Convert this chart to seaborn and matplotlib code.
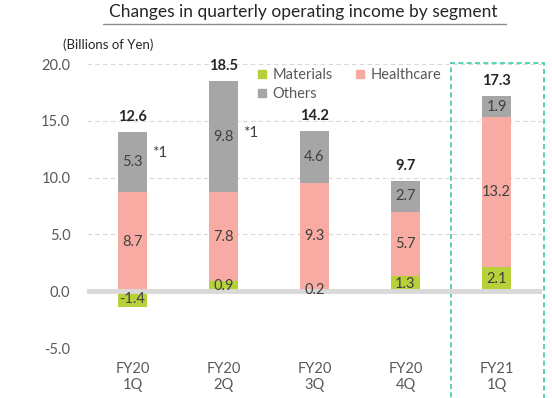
"""
Stacked bar chart: quarterly operating income by segment.

Output:
    out.png
"""

import matplotlib.pyplot as plt
import pandas as pd
import seaborn as sns
from matplotlib.lines import Line2D
from matplotlib.patches import Rectangle

quarters = ["FY20\n1Q", "FY20\n2Q", "FY20\n3Q", "FY20\n4Q", "FY21\n1Q"]
materials = [-1.4, 0.9, 0.2, 1.3, 2.1]
healthcare = [8.7, 7.8, 9.3, 5.7, 13.2]
others = [5.3, 9.8, 4.6, 2.7, 1.9]
totals = [12.6, 18.5, 14.2, 9.7, 17.3]
footnotes = {0: 12.2, 1: 13.9}  # quarter index -> y of "*1"
yticks = [-5, 0, 5, 10, 15, 20]

C_MAT = "#b7d13a"
C_HC = "#f7aba2"
C_OTH = "#a6a6a6"
C_GRID = "#d9d9d9"
C_TEXT = "#595959"
C_BOX = "#3cc9a6"

sns.set_theme(style="white")
plt.rcParams["font.family"] = ["Lato", "DejaVu Sans"]

# positive segments stack up from zero, a negative materials value hangs below
df = pd.DataFrame({"quarter": quarters, "mat": materials, "hc": healthcare, "oth": others})
df["mat_pos"] = df["mat"].clip(lower=0)
df["hc_top"] = df["mat_pos"] + df["hc"]
df["oth_top"] = df["hc_top"] + df["oth"]

fig = plt.figure(figsize=(5.52, 3.98), dpi=100)
ax = fig.add_axes([87 / 552, 1 - 348 / 398, 455 / 552, 284 / 398])

W = 0.32
bar_kw = dict(width=W, saturation=1, ax=ax, zorder=2, linewidth=0, edgecolor="none")
sns.barplot(data=df, x="quarter", y="oth_top", color=C_OTH, **bar_kw)
sns.barplot(data=df, x="quarter", y="hc_top", color=C_HC, **bar_kw)
sns.barplot(data=df, x="quarter", y="mat", color=C_MAT, **bar_kw)

ax.set_xlim(-0.5, 4.5)
ax.set_ylim(-5, 20)
ax.set_yticks(yticks)
ax.set_yticklabels([f"{v:.1f}" for v in yticks])
ax.set_xlabel("")
ax.set_ylabel("")
sns.despine(ax=ax, left=True, bottom=True)
ax.tick_params(axis="both", length=0, labelsize=10.5, labelcolor=C_TEXT)
ax.tick_params(axis="y", pad=12)
ax.tick_params(axis="x", pad=10)

for v in yticks:
    if v == 0:
        ax.axhline(0, color=C_GRID, lw=3.5, zorder=3)
    else:
        ax.axhline(v, color=C_GRID, lw=0.8, ls=(0, (4, 3)), zorder=1)

for i, row in df.iterrows():
    ax.text(i, row["mat"] / 2, f"{row['mat']:.1f}", ha="center", va="center",
            fontsize=10.5, color="#404040", zorder=4)
    ax.text(i, row["mat_pos"] + row["hc"] / 2, f"{row['hc']:.1f}", ha="center", va="center",
            fontsize=10.5, color="#404040", zorder=4)
    ax.text(i, row["hc_top"] + row["oth"] / 2, f"{row['oth']:.1f}", ha="center", va="center",
            fontsize=10.5, color="#404040", zorder=4)
    ax.text(i, row["oth_top"] + 1.3, f"{totals[i]:.1f}", ha="center", va="center",
            fontsize=10.5, fontweight="bold", color="#262626", zorder=4)

for i, y in footnotes.items():
    ax.text(i + 0.22, y, "*1", ha="left", va="center", fontsize=11, color="#404040")

# highlight box around the latest quarter
ax.add_patch(Rectangle((3.5, -12), 1.02, 32.05, fill=False, edgecolor=C_BOX,
                       lw=1.2, ls=(0, (3, 2)), clip_on=False, zorder=1))

handles = [
    Line2D([], [], marker="s", ls="", color=C_MAT, markersize=6),
    Line2D([], [], marker="s", ls="", color=C_OTH, markersize=6),
    Line2D([], [], marker="s", ls="", color=C_HC, markersize=6),
]
fig.legend(handles, ["Materials", "Others", "Healthcare"], ncol=2, frameon=False,
           loc="upper left", bbox_to_anchor=(252 / 552, 1 - 62 / 398),
           fontsize=10.5, labelcolor=C_TEXT, handlelength=0.6, handletextpad=0.4,
           columnspacing=1.6, labelspacing=0.35, borderaxespad=0)

fig.text(303 / 552, 1 - 12 / 398, "Changes in quarterly operating income by segment",
         ha="center", va="center", fontsize=12.5, color="#262626")
fig.add_artist(Line2D([103 / 552, 506 / 552], [1 - 24 / 398] * 2, color="#8c8c8c", lw=1))
fig.text(63 / 552, 1 - 45 / 398, "(Billions of Yen)", ha="left", va="center",
         fontsize=9.5, color="#262626")

fig.savefig("out.png", dpi=100)
